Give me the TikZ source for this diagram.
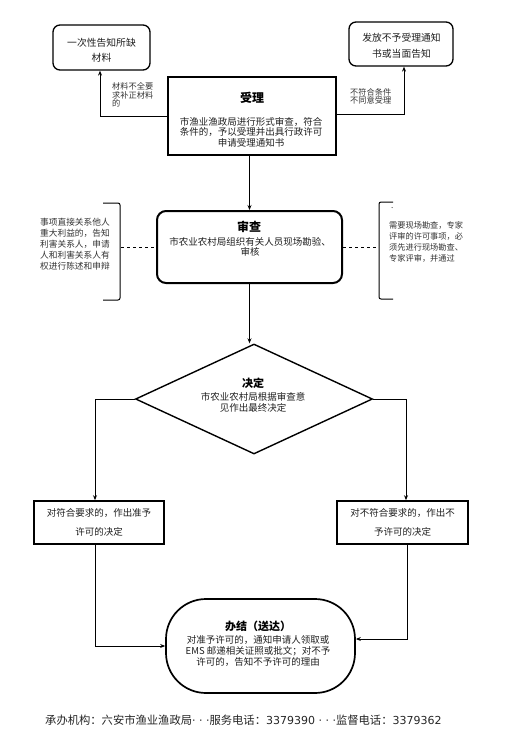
\documentclass[tikz,border=0pt]{standalone}
\usepackage{fontspec}
\setmainfont{Noto Sans CJK SC}
\newfontfamily\djv{DejaVu Sans}
\usetikzlibrary{shapes.geometric,arrows.meta}
\begin{document}
\begin{tikzpicture}[x=1pt,y=-1pt,
  arr/.style={-{Stealth[length=5pt,width=4pt]}, line width=0.9pt},
  conn/.style={line width=0.9pt},
  dashconn/.style={dashed, line width=0.9pt},
  bodytext/.style={font=\fontsize{9.5}{10.5}\selectfont, align=center, inner sep=0, text=black!88},
  titletext/.style={font=\fontsize{12}{14}\selectfont\bfseries, inner sep=0},
  smalltext/.style={font=\fontsize{8.2}{8.4}\selectfont, align=left, inner sep=0, text=black!80},
  notetext/.style={font=\fontsize{8.7}{11.2}\selectfont, align=left, inner sep=0, text=black!80},
  topbox/.style={draw, line width=1.3pt, rounded corners=7pt, inner sep=0},
  resbox/.style={draw, line width=1.6pt, inner sep=0},
]
\fill[white] (0,0) rectangle (532,745);
\useasboundingbox (0,0) rectangle (532,745);

% top boxes
\node[topbox, minimum width=97pt, minimum height=45pt] (buzhi) at (101.5,47.5) {};
\node[bodytext, font=\fontsize{9.8}{15.5}\selectfont] (buzhi-t) at (101.5,50.5) {一次性告知所缺\\材料};
\node[topbox, minimum width=104pt, minimum height=44pt] (bushou) at (401,44) {};
\node[bodytext, font=\fontsize{9.8}{16}\selectfont] (bushou-t) at (401.5,46) {发放不予受理通知\\书或当面告知};

% 受理
\node[draw, line width=2.5pt, minimum width=168pt, minimum height=78pt, inner sep=0] (shouli) at (252,116) {};
\node[titletext] (shouli-title) at (252,98) {受理};
\node[bodytext] (shouli-body) at (251,132) {市渔业渔政局进行形式审查，符合\\条件的，予以受理并出具行政许可\\申请受理通知书};

\draw[arr] (shouli.west) -| ([xshift=-1.5pt]buzhi.south);
\draw[arr] ([yshift=2pt]shouli.east) -| ([xshift=3pt]bushou.south);
\node[smalltext, anchor=north west] (lbl-buzhi) at (112,82.5) {材料不全要\\求补正材料\\的};
\node[smalltext, anchor=north west] (lbl-bushou) at (350,88) {不符合条件\\不同意受理};

% 审查
\node[draw, line width=2pt, rounded corners=9pt, minimum width=185pt, minimum height=72pt, inner sep=0] (shencha) at (249.5,247) {};
\node[titletext] (shencha-title) at (249,227) {审查};
\node[bodytext] (shencha-body) at (250,247) {市农业农村局组织有关人员现场勘验、\\审核};
\draw[arr] (shencha.north |- shouli.south) -- (shencha.north);

% brackets
\draw[line width=1pt, rounded corners=2pt] (103,203) -- (120,203) -- (120,300) -- (103,300);
\coordinate (lbr) at (121,247);
\node[notetext, anchor=north west] (lbr-t) at (40,217.5) {事项直接关系他人\\重大利益的，告知\\利害关系人，申请\\人和利害关系人有\\权进行陈述和申辩};
\draw[dashconn] (lbr) -- (shencha.west);

\draw[line width=1pt, rounded corners=2pt] (393,202) -- (379,202) -- (379,299) -- (393,299);
\coordinate (rbr) at (378,247);
\node[notetext, font=\fontsize{8.2}{11}\selectfont, anchor=north west] (rbr-dot) at (391,207) {.};
\node[notetext, font=\fontsize{8.2}{11}\selectfont, anchor=north west] (rbr-t) at (389,221) {需要现场勘查，专家\\评审的许可事项，必\\须先进行现场勘查、\\专家评审，并通过};
\draw[dashconn] (shencha.east) -- (rbr);

% 决定
\node[draw, diamond, line width=1.4pt, minimum width=237pt, minimum height=110pt, inner sep=0] (juedi) at (254,399) {};
\node[titletext, font=\fontsize{11}{13}\selectfont\bfseries] (juedi-title) at (253,383) {决定};
\node[bodytext, font=\fontsize{9.5}{11}\selectfont] (juedi-body) at (253,402.5) {市农业农村局根据审查意\\见作出最终决定};
\draw[arr] (shencha.south) -- (shencha.south |- juedi.north);

% result boxes
\node[resbox, minimum width=130pt, minimum height=43pt] (zhunyu) at (99,522.5) {};
\node[bodytext, font=\fontsize{9.5}{19}\selectfont] (zhunyu-t) at (99,522.5) {对符合要求的，作出准予\\许可的决定};
\node[resbox, minimum width=131pt, minimum height=43pt] (buzhun) at (402.5,522.5) {};
\node[bodytext, font=\fontsize{9.5}{19}\selectfont] (buzhun-t) at (402.5,522.5) {对不符合要求的，作出不\\予许可的决定};
\draw[arr] (juedi.west) -| ([xshift=-4pt]zhunyu.north);
\draw[arr] (juedi.east) -| ([xshift=3.5pt]buzhun.north);

% 办结
\node[draw, line width=1.7pt, rounded corners=40pt, minimum width=189pt, minimum height=94pt, inner sep=0] (banjie) at (260.5,646) {};
\node[titletext, font=\fontsize{11}{13}\selectfont\bfseries] (banjie-title) at (258,626) {办结（送达）};
\node[bodytext, font=\fontsize{9.5}{11}\selectfont] (banjie-body) at (258,651) {对准予许可的，通知申请人领取或\\EMS 邮递相关证照或批文；对不予\\许可的，告知不予许可的理由};
\draw[arr] ([xshift=-4pt]zhunyu.south) |- (banjie.west);
\draw[arr] ([xshift=4.5pt]buzhun.south) |- ([yshift=7pt]banjie.east);

% footer
\node[anchor=west, font=\fontsize{11.3}{13}\selectfont, inner sep=0, text=black!85] (footer) at (45,720) {承办机构：六安市渔业渔政局{\djv\fontsize{11}{13}\selectfont · · ·}服务电话：{\djv\fontsize{11}{13}\selectfont 3379390 · · ·}监督电话：{\djv\fontsize{11}{13}\selectfont 3379362}};
\end{tikzpicture}
\end{document}
